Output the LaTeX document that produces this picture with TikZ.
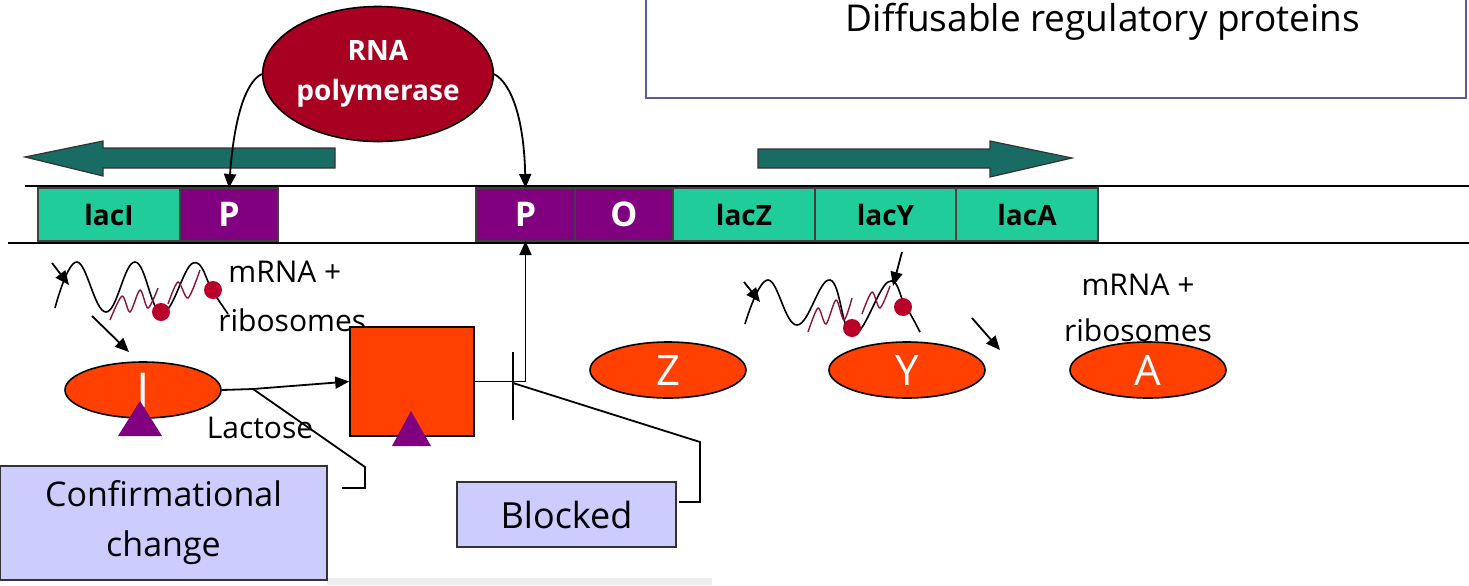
\documentclass[tikz,border=0pt]{standalone}
\usepackage{fontspec}
\setmainfont{Open Sans}
\usetikzlibrary{arrows.meta,shapes.geometric}
\definecolor{genegreen}{RGB}{32,204,153}
\definecolor{promcol}{RGB}{128,0,128}
\definecolor{strandcol}{RGB}{24,108,100}
\definecolor{polred}{RGB}{168,0,32}
\definecolor{protcol}{RGB}{255,64,0}
\definecolor{ribocol}{RGB}{185,0,40}
\definecolor{peptcol}{RGB}{140,20,60}
\definecolor{notefill}{RGB}{204,204,255}
\definecolor{framecol}{RGB}{90,90,160}
\begin{document}
\begin{tikzpicture}[x=0.5pt,y=-0.5pt,
  genebox/.style={rectangle, draw=black!75, line width=0.6pt, fill=genegreen,
    minimum height=26.5pt, inner sep=0pt, outer sep=0pt,
    font=\fontsize{14}{16}\selectfont\bfseries},
  ctrlbox/.style={genebox, fill=promcol, text=white,
    font=\fontsize{17}{18}\selectfont\bfseries},
  protbox/.style={ellipse, draw=black, line width=0.8pt, fill=protcol,
    minimum width=78pt, minimum height=28pt, inner sep=0pt, text=white,
    font=\fontsize{21}{21}\selectfont},
  notebox/.style={rectangle, draw=black!80, line width=0.8pt, fill=notefill,
    inner sep=0pt, align=center},
  link/.style={line width=0.9pt},
  arrowline/.style={-{Triangle[length=7pt,width=6pt]}, line width=0.9pt},
  lbl/.style={font=\fontsize{15}{17}\selectfont, inner sep=0pt},
  bigarrow/.style={fill=strandcol, draw=black!80, line width=0.6pt},
  effector/.style={fill=promcol, draw=none},
  wave/.style={line width=0.8pt},
  peptide/.style={peptcol, line width=0.7pt}
]
\useasboundingbox (0,0) rectangle (1469,585);
\fill[white] (0,0) rectangle (1469,585);
\fill[black!7] (327,578) rectangle (712,585);

% legend box at the top
\node[draw=framecol, line width=1pt, fill=white, minimum width=410pt,
  minimum height=55pt, inner sep=0pt] (regbox) at (1056,43) {};
\node[anchor=base, inner sep=0pt, font=\fontsize{18.5}{20}\selectfont]
  (regtext) at (1103,31) {Diffusable regulatory proteins};

% DNA double line
\draw[line width=1pt] (25,186) -- (1469,186);
\draw[line width=1pt] (8,243) -- (1469,243);

% genes and control regions
\node[genebox, minimum width=71pt]   (lacI) at (109,214.5)  {lacI};
\node[ctrlbox, minimum width=49pt]   (P1)   at (229,214.5)  {P};
\node[ctrlbox, minimum width=49.5pt] (P2)   at (525.5,214.5){P};
\node[ctrlbox, minimum width=49pt]   (O)    at (624,214.5)  {O};
\node[genebox, minimum width=71pt]   (lacZ) at (744,214.5)  {lacZ};
\node[genebox, minimum width=70.5pt] (lacY) at (885.5,214.5){lacY};
\node[genebox, minimum width=71pt]   (lacA) at (1027,214.5) {lacA};

% direction of transcription
\draw[bigarrow] (335,148) -- (103,148) -- (103,141) -- (25,157) -- (103,176)
  -- (103,168) -- (335,168) -- cycle;
\draw[bigarrow] (758,149) -- (990,149) -- (990,141) -- (1072,158) -- (990,177)
  -- (990,168) -- (758,168) -- cycle;

% RNA polymerase
\node[ellipse, draw=black, line width=0.8pt, fill=polred, minimum width=113pt,
  minimum height=67.5pt, inner sep=0pt, text=white, align=center,
  font=\fontsize{14}{20}\selectfont\bfseries] (rnap) at (378,74) {RNA\\polymerase};
\draw[arrowline] (rnap.west) .. controls (245,82) and (234,120) .. (P1.north);
\draw[arrowline] (rnap.east) .. controls (512,84) and (524,120) .. (P2.north);

% lacI transcript with ribosomes
\draw[wave] plot[smooth, tension=0.7] coordinates
  {(55,308) (77,262) (106,312) (135,262) (162,313) (193,263) (213,292) (228,314)};
\draw[peptide] plot[smooth, tension=0.5] coordinates
  {(110,320) (122,296) (130,312) (140,290) (148,308) (158,288)};
\draw[peptide] plot[smooth, tension=0.5] coordinates
  {(168,304) (178,282) (188,298) (200,270)};
\fill[ribocol] (161,312) circle (4.5pt);
\fill[ribocol] (213,290) circle (4.5pt);
\coordinate (la1) at (52,263);  \coordinate (la2) at (69,285);
\coordinate (lb1) at (92,316);  \coordinate (lb2) at (129,352);
\draw[arrowline] (la1) -- (la2);
\draw[arrowline] (lb1) -- (lb2);
\node[lbl, anchor=west] (mrnaL)  at (228,272) {mRNA +};
\node[lbl, anchor=west] (riboL)  at (218,320) {ribosomes};

% lacZYA transcript with ribosomes
\draw[wave] plot[smooth, tension=0.7] coordinates
  {(745,324) (768,280) (797,325) (830,280) (853,335) (888,282) (905,305) (920,332)};
\draw[peptide] plot[smooth, tension=0.5] coordinates
  {(808,332) (818,308) (826,324) (836,300) (844,320) (852,298)};
\draw[peptide] plot[smooth, tension=0.5] coordinates
  {(862,314) (872,292) (880,308) (890,286)};
\fill[ribocol] (852,328) circle (4.5pt);
\fill[ribocol] (903,307) circle (4.5pt);
\coordinate (ra1) at (744,282); \coordinate (ra2) at (760,302);
\coordinate (rb1) at (902,252); \coordinate (rb2) at (893,286);
\coordinate (rc1) at (972,318); \coordinate (rc2) at (1000,350);
\draw[arrowline] (ra1) -- (ra2);
\draw[arrowline] (rb1) -- (rb2);
\draw[arrowline] (rc1) -- (rc2);
\node[lbl] (mrnaR) at (1138,285) {mRNA +};
\node[lbl] (riboR) at (1138,330) {ribosomes};

% repressor, free and bound to lactose
\node[protbox, font=\fontsize{24}{24}\selectfont] (I) at (143,390) {I};
\fill[effector] (118,436) -- (140,401) -- (162,436) -- cycle;
\node[rectangle, draw=black, line width=0.8pt, fill=protcol, minimum width=62pt,
  minimum height=54.5pt, inner sep=0pt] (sq) at (412,381.5) {};
\fill[effector] (392,446) -- (411,411) -- (431,446) -- cycle;

% enzymes
\node[protbox] (Z) at (668,370) {Z};
\node[protbox] (Y) at (907,370) {Y};
\node[protbox] (A) at (1148,370) {A};

% lactose binding and operator block
\coordinate (lacjoin) at (253,389);
\draw[arrowline] (I.east) -- (lacjoin) -- (sq.west);
\draw[arrowline] (sq.east) -| (P2.south);
\coordinate (bartop) at (513,352); \coordinate (barbot) at (513,420);
\draw[link] (bartop) -- (barbot);
\node[lbl, font=\fontsize{15}{16}\selectfont] (lactose) at (260,428) {Lactose};

% callout boxes
\node[notebox, minimum width=163.5pt, minimum height=57pt,
  font=\fontsize{17}{25}\selectfont] (conf) at (163.5,523) {Confirmational\\change};
\node[notebox, minimum width=109.5pt, minimum height=32.5pt,
  font=\fontsize{18}{20}\selectfont] (blocked) at (566.5,514.5) {Blocked};
\coordinate (cc1) at (365,467); \coordinate (cc2) at (365,488); \coordinate (ccend) at (342,488);
\draw[link] (lacjoin) -- (cc1) -- (cc2) -- (ccend);
\coordinate (bk0) at (513,383); \coordinate (bk1) at (700,442);
\coordinate (bk2) at (700,502); \coordinate (bkend) at (679,502);
\draw[link] (bk0) -- (bk1) -- (bk2) -- (bkend);
\end{tikzpicture}
\end{document}
